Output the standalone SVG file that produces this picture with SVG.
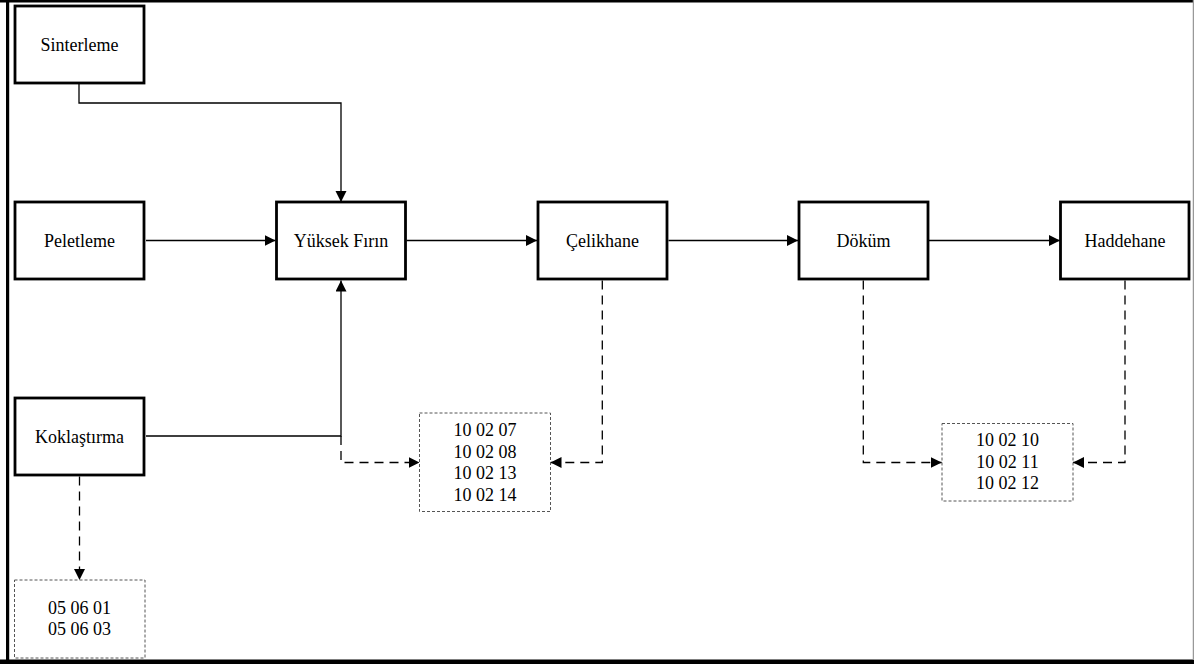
<svg xmlns="http://www.w3.org/2000/svg" width="1194" height="664" viewBox="0 0 1194 664">
<style>
.n{fill:#fff;stroke:#000;stroke-width:2.8}
.d{fill:#fff;stroke:#555;stroke-width:1;stroke-dasharray:3 2}
.t{font-family:"Liberation Serif","Times New Roman",serif;font-size:18px;fill:#000;text-anchor:middle}
.c{fill:none;stroke:#000;stroke-width:1.3}
.cd{fill:none;stroke:#000;stroke-width:1.3;stroke-dasharray:9 6}
</style>
<defs>
<marker id="ah" markerUnits="userSpaceOnUse" markerWidth="12" markerHeight="12" refX="11" refY="5.5" orient="auto" viewBox="0 0 12 12">
<path d="M0,0 L11,5.5 L0,11 z" fill="#000"/>
</marker>
</defs>
<rect x="0" y="0" width="1194" height="664" fill="#fff"/>
<g id="frame">
<line x1="0" y1="1.2" x2="1194" y2="1.2" stroke="#000" stroke-width="2.5"/>
<line x1="7.6" y1="0" x2="7.6" y2="664" stroke="#000" stroke-width="3.2"/>
<line x1="0" y1="661.7" x2="1194" y2="661.7" stroke="#000" stroke-width="4.6"/>
<line x1="1193.4" y1="0" x2="1193.4" y2="660" stroke="#999" stroke-width="1.3"/>
</g>
<g id="connectors">
<polyline class="c" points="79,84 79,103 341,103 341,202" marker-end="url(#ah)"/>
<line class="c" x1="146" y1="240.5" x2="275.5" y2="240.5" marker-end="url(#ah)"/>
<line class="c" x1="406.5" y1="240.5" x2="537" y2="240.5" marker-end="url(#ah)"/>
<line class="c" x1="668.5" y1="240.5" x2="798" y2="240.5" marker-end="url(#ah)"/>
<line class="c" x1="929" y1="240.5" x2="1060" y2="240.5" marker-end="url(#ah)"/>
<polyline class="c" points="146,436 341,436 341,280.5" marker-end="url(#ah)"/>
<polyline class="cd" points="341,436 341,462.5 419.5,462.5" marker-end="url(#ah)"/>
<polyline class="cd" points="602.3,280.5 602.3,462.5 550.5,462.5" marker-end="url(#ah)"/>
<polyline class="cd" points="863.3,280.5 863.3,462.5 941.7,462.5" marker-end="url(#ah)"/>
<polyline class="cd" points="1125,280.5 1125,462.5 1073,462.5" marker-end="url(#ah)"/>
<line class="cd" x1="79.5" y1="476.5" x2="79.5" y2="580" marker-end="url(#ah)"/>
</g>
<g id="sinterleme"><rect class="n" x="15" y="6" width="129" height="77"/><text class="t" x="79.5" y="51">Sinterleme</text></g>
<g id="peletleme"><rect class="n" x="15" y="202" width="129" height="77"/><text class="t" x="79.5" y="247">Peletleme</text></g>
<g id="yuksek-firin"><rect class="n" x="276.5" y="202" width="129" height="77"/><text class="t" x="341" y="247">Yüksek Fırın</text></g>
<g id="celikhane"><rect class="n" x="538" y="202" width="129" height="77"/><text class="t" x="602.5" y="247">Çelikhane</text></g>
<g id="dokum"><rect class="n" x="799" y="202" width="129" height="77"/><text class="t" x="863.5" y="247">Döküm</text></g>
<g id="haddehane"><rect class="n" x="1060.5" y="202" width="128.5" height="77"/><text class="t" x="1125" y="247">Haddehane</text></g>
<g id="koklastirma"><rect class="n" x="15" y="398" width="129" height="77"/><text class="t" x="79.5" y="443">Koklaştırma</text></g>
<g id="codes1"><rect class="d" x="419.5" y="413" width="131" height="98.5"/>
<text class="t" x="485" y="436">10 02 07</text><text class="t" x="485" y="457.5">10 02 08</text><text class="t" x="485" y="479">10 02 13</text><text class="t" x="485" y="500.5">10 02 14</text></g>
<g id="codes2"><rect class="d" x="942" y="423.5" width="131" height="77.5"/>
<text class="t" x="1007.5" y="446">10 02 10</text><text class="t" x="1007.5" y="467.7">10 02 11</text><text class="t" x="1007.5" y="489.3">10 02 12</text></g>
<g id="codes3"><rect class="d" x="14.5" y="580" width="130.5" height="78"/>
<text class="t" x="79.5" y="614">05 06 01</text><text class="t" x="79.5" y="635">05 06 03</text></g>
</svg>
